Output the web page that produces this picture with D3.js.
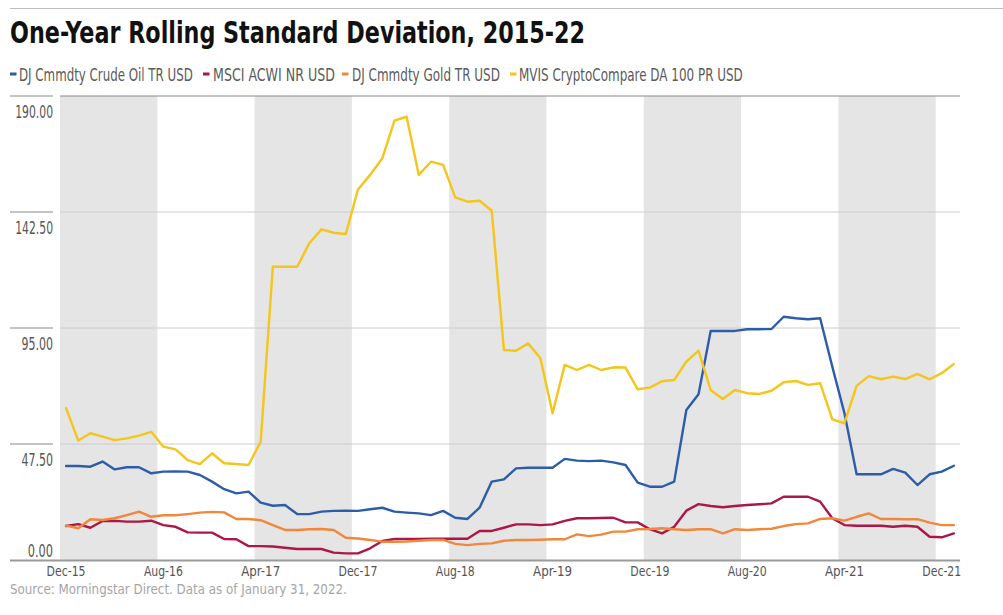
<!DOCTYPE html>
<html>
<head>
<meta charset="utf-8">
<script src="https://cdn.jsdelivr.net/npm/d3@7"></script>
<style>
  html, body { margin: 0; padding: 0; background: #fff; }
  svg { display: block; }
  text { font-family: "Liberation Sans Narrow", "DejaVu Sans Condensed", "Roboto", "Liberation Sans", sans-serif; }
</style>
</head>
<body>
<svg id="chart" width="1003" height="615"></svg>
<script>
// ---------- DATA ----------
const title = "One-Year Rolling Standard Deviation, 2015-22";
const source = "Source: Morningstar Direct. Data as of January 31, 2022.";
const months = d3.utcMonth.range(new Date(Date.UTC(2015, 11, 1)), new Date(Date.UTC(2022, 1, 1)))
  .map(d3.utcFormat("%b-%y")); // Dec-15 ... Jan-22 (74 months)
const xTickLabels = ["Dec-15", "Aug-16", "Apr-17", "Dec-17", "Aug-18", "Apr-19", "Dec-19", "Aug-20", "Apr-21", "Dec-21"];
const yTickValues = [0, 47.5, 95, 142.5, 190];
const seriesNames = ["DJ Cmmdty Crude Oil TR USD", "MSCI ACWI NR USD", "DJ Cmmdty Gold TR USD", "MVIS CryptoCompare DA 100 PR USD"];
const seriesColors = ["#2d5da8", "#ad1745", "#f0873a", "#f4c51b"];

const crudeOil = [38.5, 38.5, 38.2, 40.3, 37.1, 38.0, 38.0, 35.5, 36.2, 36.3,
  36.2, 34.8, 32.1, 29.0, 27.3, 28.0, 23.5, 22.2, 22.5, 18.8,
  18.8, 19.8, 20.1, 20.2, 20.1, 20.8, 21.4, 19.8, 19.4, 19.1,
  18.4, 20.1, 17.3, 16.8, 21.4, 32.1, 33.0, 37.5, 37.8, 37.8,
  37.8, 41.4, 40.7, 40.5, 40.7, 40.0, 38.9, 31.7, 30.0, 30.0,
  32.1, 61.4, 67.9, 93.8, 93.8, 93.8, 94.5, 94.5, 94.6, 99.6,
  99.0, 98.6, 99.0, 79.2, 60.1, 35.1, 35.1, 35.1, 37.3, 35.8,
  30.7, 35.1, 36.2, 38.6];
const msciAcwi = [13.9, 14.7, 13.2, 16.0, 16.0, 15.7, 15.7, 16.1, 14.3, 13.6,
  11.3, 11.2, 11.2, 8.6, 8.5, 5.7, 5.7, 5.5, 5.0, 4.5,
  4.5, 4.5, 3.0, 2.7, 2.7, 4.8, 7.8, 8.6, 8.6, 8.6,
  8.7, 8.7, 8.7, 8.7, 11.9, 11.9, 13.2, 14.6, 14.6, 14.3,
  14.6, 16.0, 17.1, 17.1, 17.2, 17.3, 15.4, 15.4, 12.6, 10.9,
  13.6, 20.2, 22.9, 22.1, 21.6, 22.1, 22.5, 22.8, 23.2, 25.9,
  25.9, 25.9, 23.9, 17.1, 14.3, 14.0, 14.0, 14.0, 13.6, 14.0,
  13.6, 9.5, 9.3, 10.9];
const gold = [14.1, 13.0, 16.7, 16.4, 17.1, 18.4, 19.8, 17.7, 18.3, 18.3,
  18.8, 19.4, 19.7, 19.5, 16.8, 16.8, 16.3, 14.3, 12.3, 12.3,
  12.6, 12.7, 12.3, 9.1, 8.8, 8.2, 7.5, 7.5, 7.6, 7.9,
  8.2, 8.2, 6.6, 6.1, 6.6, 6.8, 7.9, 8.2, 8.2, 8.3,
  8.5, 8.5, 10.5, 9.8, 10.4, 11.6, 11.6, 12.6, 12.7, 13.0,
  12.6, 12.3, 12.6, 12.6, 10.9, 12.6, 12.3, 12.6, 12.8, 13.9,
  14.7, 15.0, 16.8, 17.1, 16.1, 17.7, 19.1, 16.8, 16.8, 16.7,
  16.7, 15.3, 14.3, 14.3];
const crypto = [62.2, 48.9, 51.9, 50.5, 49.1, 49.8, 50.9, 52.5, 46.4, 45.3,
  40.9, 39.3, 43.7, 39.6, 39.3, 38.9, 48.4, 120.1, 120.1, 120.1,
  129.7, 135.4, 134.0, 133.5, 151.7, 157.7, 164.5, 179.9, 181.5, 157.7,
  163.1, 161.8, 148.5, 146.7, 147.1, 143.0, 86.0, 85.7, 88.7, 82.6,
  60.1, 79.9, 77.8, 79.9, 77.8, 78.9, 78.8, 69.9, 70.6, 73.2,
  73.7, 81.2, 85.7, 69.6, 65.9, 69.6, 68.3, 68.0, 69.3, 72.8,
  73.3, 71.7, 72.4, 57.6, 56.0, 71.3, 75.3, 74.0, 75.1, 74.1,
  76.2, 74.0, 76.5, 80.3];
const seriesValues = [crudeOil, msciAcwi, gold, crypto];

// ---------- LAYOUT ----------
const svg = d3.select("#chart");
const plotLeft = 60, plotRight = 960, plotTop = 96, plotBottom = 560;

const x = d3.scaleBand().domain(months).range([plotLeft, plotRight]).padding(0);
const bw = x.bandwidth();
const cx = m => x(m) + bw / 2;
const y = d3.scaleLinear().domain([0, 190]).range([plotBottom, plotTop]);

// helper: place text at (tx, ty) horizontally squeezed to the given width
function fitText(parent, str, tx, ty, width, attrs) {
  const g = parent.append("g");
  const t = g.append("text").attr("x", 0).attr("y", 0).text(str);
  Object.entries(attrs).forEach(([k, v]) => t.attr(k, v));
  const w = t.node().getComputedTextLength();
  g.attr("transform", `translate(${tx},${ty}) scale(${width / w},1)`);
  return g;
}

// top rule
svg.append("line").attr("x1", 10).attr("x2", 1003).attr("y1", 8.5).attr("y2", 8.5)
  .attr("stroke", "#bdbdbd").attr("stroke-width", 1);

// title
fitText(svg, title, 10, 43, 575, { "font-size": 31, "font-weight": "bold", "fill": "#111" });

// legend
const legendPos = [[10, 19, 174], [203, 213, 122], [342, 352, 148], [510, 519, 224]];
const legend = svg.append("g");
seriesNames.forEach((n, i) => {
  const [dx, tx, tw] = legendPos[i];
  legend.append("rect").attr("x", dx).attr("y", 72.5).attr("width", 6.5).attr("height", 3)
    .attr("fill", seriesColors[i]);
  fitText(legend, n, tx, 81, tw, { "font-size": 17, "fill": "#5a5a5a" });
});

// shaded bands (alternating 8-month blocks)
const bands = svg.append("g");
for (let k = 0; k * 8 < months.length; k += 2) {
  const start = months[k * 8];
  const n = Math.min(8, months.length - k * 8);
  bands.append("rect").attr("x", x(start)).attr("y", plotTop)
    .attr("width", bw * n).attr("height", plotBottom - plotTop).attr("fill", "#e5e5e5");
}

// gridlines
const grid = svg.append("g");
yTickValues.forEach(v => {
  if (v === 0) return;
  grid.append("line").attr("x1", plotLeft).attr("x2", plotRight)
    .attr("y1", y(v)).attr("y2", y(v))
    .attr("stroke", v === 190 ? "#8a8a8a" : "#cccccc").attr("stroke-width", v === 190 ? 1.2 : 1);
  grid.append("line").attr("x1", 10).attr("x2", 53).attr("y1", y(v)).attr("y2", y(v))
    .attr("stroke", "#8a8a8a").attr("stroke-width", 1.2);
});

// y labels via axis
const yAxis = d3.axisLeft(y).tickValues(yTickValues).tickSize(0).tickFormat(d3.format(".2f"));
const yg = svg.append("g").attr("transform", `translate(53,0)`).call(yAxis);
yg.select(".domain").remove();
yg.selectAll("text").attr("font-size", 17).attr("fill", "#555").attr("x", 0)
  .attr("font-family", null)
  .attr("textLength", d => d3.format(".2f")(d).length * 6.3)
  .attr("lengthAdjust", "spacingAndGlyphs")
  .attr("dy", d => d === 0 ? "-0.18em" : "1.24em");

// series lines
const line = d3.line().x((d, i) => cx(months[i])).y(d => y(d));
seriesValues.forEach((vals, i) => {
  svg.append("path").datum(vals).attr("d", line).attr("fill", "none")
    .attr("stroke", seriesColors[i]).attr("stroke-width", 2.4)
    .attr("stroke-linejoin", "round").attr("stroke-linecap", "round");
});

// bottom axis line
svg.append("line").attr("x1", 10).attr("x2", plotRight).attr("y1", plotBottom + 0.5).attr("y2", plotBottom + 0.5)
  .attr("stroke", "#9a9a9a").attr("stroke-width", 2);

// x labels via axis
const xAxis = d3.axisBottom(x).tickValues(xTickLabels).tickSize(0);
const xg = svg.append("g").attr("transform", `translate(0,${plotBottom})`).call(xAxis);
xg.select(".domain").remove();
xg.selectAll("text").attr("font-size", 14).attr("fill", "#555").attr("font-family", null)
  .attr("y", 0).attr("dy", "1.15em")
  .attr("textLength", 39).attr("lengthAdjust", "spacingAndGlyphs");

// source
fitText(svg, source, 10, 594, 337, { "font-size": 14, "fill": "#a5a5a5" });
</script>
</body>
</html>
